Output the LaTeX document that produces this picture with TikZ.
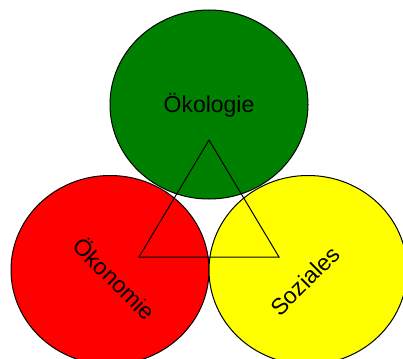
\documentclass[tikz,border=0pt]{standalone}
\usepackage{fontspec}
\setmainfont{Liberation Sans}
\usetikzlibrary{shapes.geometric}
\definecolor{oekgreen}{RGB}{0,128,0}
\definecolor{oekred}{RGB}{255,0,0}
\definecolor{oekyellow}{RGB}{255,255,0}
\tikzset{
  pillar/.style={ellipse, draw=black, line width=1pt, minimum width=198pt, minimum height=189pt, inner sep=0pt},
  lbl/.style={font=\fontsize{23}{27}\selectfont, text=black, inner sep=0pt}
}
\begin{document}
\begin{tikzpicture}[x=1pt,y=-1pt]
\useasboundingbox (0,0) rectangle (403,358);
\clip (0,0) rectangle (403,358);
\node[pillar, fill=oekred] (oekon) at (110,270) {};
\node[pillar, fill=oekyellow] (soz) at (308,270) {};
\node[pillar, fill=oekgreen] (oekol) at (209,104.5) {};
\node[lbl] (toekol) at (209,105) {Ökologie};
\node[lbl, rotate=-45] (toekon) at (115,278) {Ökonomie};
\node[lbl, rotate=45] (tsoz) at (305,281) {Soziales};
\coordinate (apex) at (209,140);
\coordinate (bl) at (139,257);
\coordinate (br) at (279,257);
\draw[line width=1pt, line join=miter] (apex) -- (bl) -- (br) -- cycle;
\end{tikzpicture}
\end{document}
